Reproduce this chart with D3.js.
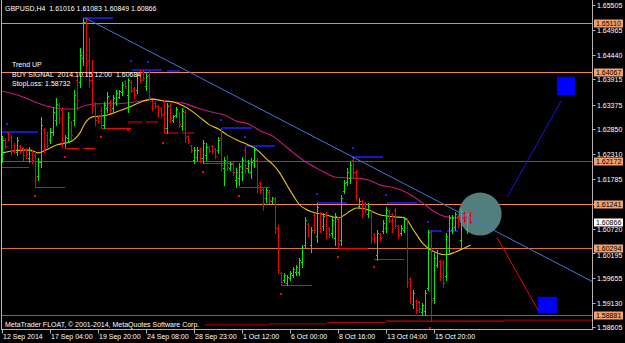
<!DOCTYPE html>
<html>
<head>
<meta charset="utf-8">
<script src="https://cdn.jsdelivr.net/npm/d3@7"></script>
<style>
  html, body { margin: 0; padding: 0; background: #000; }
  svg { display: block; }
  text { font-family: "Liberation Sans", Arial, sans-serif; font-size: 7px; fill: #fff; white-space: pre; }
</style>
</head>
<body>
<div id="chart"></div>
<script>
// GBPUSD H4 bars (bar 0 = 12 Sep 2014)
var opens = [
  1.6230,1.6262,1.6277,1.6268,1.6251,1.6236,1.6249,1.6245,1.6240,1.6223,
  1.6238,1.6230,1.6185,1.6215,1.6283,1.6272,1.6262,1.6279,1.6304,1.6336,
  1.6326,1.6255,1.6266,1.6300,1.6304,1.6390,1.6386,1.6437,1.6514,1.6433,
  1.6390,1.6336,1.6311,1.6326,1.6294,1.6330,1.6343,1.6330,1.6343,1.6354,
  1.6364,1.6388,1.6358,1.6386,1.6373,1.6369,1.6407,1.6407,1.6377,1.6401,
  1.6345,1.6341,1.6334,1.6330,1.6343,1.6287,1.6336,1.6304,1.6315,1.6319,
  1.6292,1.6321,1.6270,1.6251,1.6219,1.6225,1.6240,1.6223,1.6230,1.6247,
  1.6249,1.6242,1.6240,1.6266,1.6202,1.6225,1.6202,1.6210,1.6176,1.6180,
  1.6193,1.6240,1.6202,1.6193,1.6219,1.6219,1.6170,1.6157,1.6137,1.6150,
  1.6131,1.6135,1.6073,1.5977,1.5962,1.5956,1.5966,1.5973,1.5979,1.5979,
  1.6001,1.6037,1.6082,1.6037,1.6101,1.6056,1.6105,1.6078,1.6103,1.6073,
  1.6063,1.6052,1.6093,1.6048,1.6152,1.6172,1.6180,1.6219,1.6193,1.6120,
  1.6131,1.6125,1.6103,1.6110,1.6060,1.6016,1.6060,1.6067,1.6073,1.6110,
  1.6103,1.6112,1.6078,1.6063,1.6069,1.6090,1.5964,1.5911,1.5917,1.5915,
  1.5894,1.5896,1.5945,1.6063,1.5924,1.5994,1.6003,1.6001,1.5971,1.6031,
  1.6069,1.6075,1.6099,1.6048,1.6105,1.6069,1.61016
];
var highs = [
  1.6270,1.6266,1.6279,1.6272,1.6255,1.6268,1.6251,1.6247,1.6245,1.6247,
  1.6240,1.6236,1.6223,1.6311,1.6287,1.6279,1.6287,1.6332,1.6352,1.6341,
  1.6332,1.6272,1.6321,1.6302,1.6369,1.6401,1.6459,1.6523,1.6523,1.6480,
  1.6433,1.6343,1.6315,1.6332,1.6343,1.6364,1.6347,1.6358,1.6369,1.6369,
  1.6386,1.6390,1.6394,1.6390,1.6375,1.6407,1.6411,1.6411,1.6405,1.6411,
  1.6347,1.6345,1.6336,1.6332,1.6347,1.6341,1.6341,1.6315,1.6332,1.6321,
  1.6330,1.6326,1.6272,1.6251,1.6247,1.6247,1.6245,1.6262,1.6255,1.6249,
  1.6251,1.6245,1.6268,1.6287,1.6225,1.6230,1.6215,1.6215,1.6202,1.6212,
  1.6225,1.6247,1.6219,1.6223,1.6247,1.6223,1.6172,1.6161,1.6159,1.6155,
  1.6140,1.6140,1.6080,1.5979,1.5977,1.5973,1.5981,1.5990,1.5994,1.6009,
  1.6037,1.6097,1.6084,1.6075,1.6105,1.6127,1.6108,1.6105,1.6108,1.6075,
  1.6097,1.6105,1.6097,1.6144,1.6176,1.6202,1.6215,1.6223,1.6197,1.6137,
  1.6133,1.6129,1.6127,1.6112,1.6063,1.6069,1.6063,1.6090,1.6118,1.6112,
  1.6105,1.6116,1.6080,1.6080,1.6097,1.6095,1.5968,1.5941,1.5919,1.5917,
  1.5913,1.5941,1.6069,1.6069,1.6020,1.6026,1.6005,1.6005,1.6063,1.6101,
  1.6101,1.6108,1.6101,1.6116,1.6108,1.6105,1.61083
];
var lows = [
  1.6215,1.6245,1.6262,1.6230,1.6234,1.6230,1.6234,1.6219,1.6223,1.6215,
  1.6212,1.6161,1.6176,1.6204,1.6236,1.6245,1.6255,1.6272,1.6294,1.6298,
  1.6247,1.6247,1.6257,1.6262,1.6294,1.6326,1.6375,1.6422,1.6401,1.6375,
  1.6319,1.6294,1.6298,1.6287,1.6287,1.6321,1.6321,1.6321,1.6336,1.6352,
  1.6358,1.6373,1.6321,1.6364,1.6352,1.6362,1.6386,1.6390,1.6369,1.6347,
  1.6326,1.6330,1.6311,1.6311,1.6277,1.6277,1.6300,1.6300,1.6311,1.6289,
  1.6283,1.6257,1.6255,1.6236,1.6212,1.6219,1.6215,1.6212,1.6219,1.6236,
  1.6234,1.6223,1.6234,1.6197,1.6165,1.6197,1.6197,1.6187,1.6161,1.6165,
  1.6176,1.6191,1.6193,1.6180,1.6204,1.6150,1.6148,1.6112,1.6129,1.6127,
  1.6127,1.6063,1.5977,1.5951,1.5958,1.5951,1.5962,1.5968,1.5973,1.5973,
  1.5990,1.6031,1.6054,1.6022,1.6063,1.6043,1.6065,1.6069,1.6052,1.6054,
  1.6054,1.6037,1.6031,1.6037,1.6148,1.6165,1.6170,1.6182,1.6133,1.6116,
  1.6097,1.6108,1.6097,1.6041,1.6041,1.6005,1.6048,1.6063,1.6065,1.6086,
  1.6065,1.6073,1.6052,1.6058,1.6065,1.5947,1.5913,1.5902,1.5891,1.5894,
  1.5887,1.5887,1.5941,1.5875,1.5913,1.5990,1.5962,1.5947,1.5962,1.6022,
  1.6063,1.6069,1.6075,1.6031,1.6086,1.6063,1.60849
];
var closes = [
  1.6262,1.6249,1.6264,1.6240,1.6240,1.6262,1.6238,1.6230,1.6232,1.6240,
  1.6219,1.6176,1.6215,1.6294,1.6245,1.6251,1.6279,1.6321,1.6339,1.6309,
  1.6262,1.6268,1.6311,1.6272,1.6358,1.6347,1.6444,1.6514,1.6422,1.6390,
  1.6336,1.6304,1.6302,1.6294,1.6336,1.6356,1.6326,1.6352,1.6362,1.6366,
  1.6379,1.6377,1.6390,1.6369,1.6358,1.6401,1.6390,1.6394,1.6399,1.6354,
  1.6330,1.6334,1.6315,1.6317,1.6287,1.6334,1.6309,1.6313,1.6328,1.6296,
  1.6324,1.6268,1.6259,1.6240,1.6240,1.6240,1.6223,1.6255,1.6247,1.6238,
  1.6238,1.6227,1.6262,1.6208,1.6219,1.6204,1.6210,1.6193,1.6193,1.6206,
  1.6219,1.6202,1.6212,1.6215,1.6240,1.6165,1.6155,1.6127,1.6155,1.6133,
  1.6137,1.6073,1.5983,1.5958,1.5973,1.5968,1.5977,1.5986,1.5990,1.6005,
  1.6031,1.6090,1.6058,1.6069,1.6069,1.6118,1.6073,1.6099,1.6063,1.6058,
  1.6090,1.6099,1.6039,1.6137,1.6170,1.6193,1.6208,1.6193,1.6144,1.6131,
  1.6105,1.6112,1.6120,1.6052,1.6045,1.6063,1.6052,1.6084,1.6112,1.6090,
  1.6073,1.6080,1.6058,1.6073,1.6093,1.5958,1.5924,1.5934,1.5898,1.5900,
  1.5909,1.5934,1.6065,1.5919,1.6009,1.6020,1.5968,1.5956,1.6056,1.6095,
  1.6095,1.6103,1.6082,1.6110,1.6090,1.6101,1.60866
];

// moving averages at these bars
var fastMaBars = [0,3,6,9,12,15,18,21,23,25,26,27,28,30,33,35,39,43,47,50,
  54,57,61,63,66,69,72,75,79,82,85,88,90,92,95,97,99,101,103,108,
  112,114,116,118,121,126,131,134,137,140,144,148,151,156];
var fastMa = [1.6234,1.6238,1.6240,1.6240,1.6234,1.6242,1.6251,1.6255,1.6259,1.6270,
  1.6279,1.6292,1.6302,1.6311,1.6313,1.6315,1.6324,1.6334,1.6345,1.6349,
  1.6345,1.6343,1.6332,1.6324,1.6309,1.6294,1.6285,1.6272,1.6259,1.6251,
  1.6240,1.6221,1.6210,1.6195,1.6163,1.6142,1.6123,1.6114,1.6108,1.6101,
  1.6095,1.6101,1.6110,1.6116,1.6114,1.6101,1.6097,1.6095,1.6069,1.6041,
  1.6022,1.6016,1.6022,1.6037];
var slowMaBars = [0,5,10,15,20,24,28,32,38,44,48,50,54,60,65,70,74,78,82,86,
  90,93,97,101,106,111,117,122,126,131,135,140,144,148,152,156];
var slowMa = [1.6366,1.6358,1.6345,1.6334,1.6328,1.6328,1.6336,1.6339,1.6339,1.6343,
  1.6347,1.6349,1.6345,1.6341,1.6330,1.6321,1.6315,1.6302,1.6296,1.6281,
  1.6270,1.6255,1.6234,1.6215,1.6197,1.6182,1.6180,1.6176,1.6165,1.6159,
  1.6148,1.6127,1.6108,1.6097,1.6095,1.6095];

// horizontal levels and axes
var levelPrices = [1.65110, 1.64067, 1.62172, 1.61241, 1.60294, 1.58881];
var priceTicks = [1.65505,1.64965,1.64440,1.63915,1.63375,1.62850,1.62310,
  1.61785,1.61250,1.60720,1.60195,1.59655,1.59130,1.58605];
var lastPrice = 1.60866;
var dateBars = [0,16,32,48,64,80,96,112,128,144];
var dateLabels = ["12 Sep 2014","17 Sep 04:00","19 Sep 20:00","24 Sep 08:00","28 Sep 23:00",
  "1 Oct 12:00","6 Oct 00:00","8 Oct 16:00","13 Oct 04:00","15 Oct 20:00"];

// indicator marks (bar index, price)
var blueDotBars = [27,1.5,42.8,48.5,72.8,80.8,116.8,104.8,127.8,141.8];
var blueDotPrices = [1.6542,1.6296,1.6431,1.6429,1.6304,1.6268,1.6245,1.6146,1.6144,1.6086];
var blueSegStart = [26.8,-0.2,43.2,54.8,73.2,80.8,116.5,104.8,128.2,141.8,148.2];
var blueSegEnd = [36.8,11.8,53.2,59.2,83.2,90.8,126.8,114.8,138.2,146.5,151.8];
var blueSegPrice = [1.6523,1.6279,1.6412,1.6410,1.6287,1.6249,1.6225,1.6127,1.6127,1.6067,1.6067];
var redDotBars = [10.8,20.8,32.8,41.8,53.5,66.8,78.8,92.8,111.8,123.8,142.5];
var redDotPrices = [1.6142,1.6225,1.6268,1.6283,1.6255,1.6193,1.6142,1.5932,1.6011,1.5990,1.5859];
var redSegStart = [-0.2,10.8,20.8,26.8,33.2,66.8,78.8,92.8,111.8,123.8];
var redSegEnd = [8.8,20.8,25.5,30.8,42.8,76.8,89.2,103.2,121.8,133.8];
var redSegPrice = [1.6203,1.6161,1.6245,1.6245,1.6287,1.6212,1.6161,1.5951,1.6031,1.6007];
var darkSegStart = [41.8,47.8,53.8,59.8];
var darkSegEnd = [46.5,51.8,58.5,63.8];
var darkSegPrice = [1.6300,1.6300,1.6277,1.6277];
var stopStart = [67.5,88.5,108.2,127.8,167.2];
var stopEnd = [88.5,108.2,127.8,167.2,196.8];
var stopPrice = [1.5866,1.5868,1.5871,1.5874,1.5876];

// trend line and projection objects
var trendBars = [27.5, 196.8];
var trendPrices = [1.6523, 1.5958];
var upArrowBars = [168.2, 186.2];
var upArrowPrices = [1.6139, 1.6345];
var downArrowBars = [164.8, 178.8];
var downArrowPrices = [1.6054, 1.5894];
var boxBarStart = [184.8, 178.5];
var boxBarEnd = [190.8, 184.8];
var boxTop = [1.6397, 1.5926];
var boxBottom = [1.6358, 1.5891];
var circleBar = 159.2;
var circlePrice = 1.6103;

var titleText = "GBPUSD,H4  1.61016 1.61083 1.60849 1.60866";
var infoLines = ["Trend UP", "BUY SIGNAL  2014.10.15 12:00  1.60684", "StopLoss: 1.58732"];
var copyText = "MetaTrader FLOAT, \u00a9 2001-2014, MetaQuotes Software Corp.";

(function () {
    var W = 625, H = 343;
    var PLOT_L = 1.5, PLOT_R = 592.5, PLOT_B = 329.5;
    var UP = '#00f000', DOWN = '#f00000';
    var LEVEL_COLORS = ['#f4875a', '#f4875a', '#8c4628', '#f4875a', '#dc6e3e', '#a85430'];

    var svg = d3.select('#chart').append('svg')
        .attr('width', W).attr('height', H);

    svg.append('rect').attr('width', W).attr('height', H).attr('fill', '#000');

    var x = d3.scaleLinear().domain([0, 156]).range([2.5, 470.5]);
    var y = d3.scaleLinear().domain([1.58605, 1.65505]).range([327.4, 5]);

    var plot = svg.append('g');

    // price levels
    plot.selectAll('line.level')
        .data(levelPrices)
        .join('line')
        .attr('x1', PLOT_L).attr('x2', PLOT_R)
        .attr('y1', function (d) { return Math.round(y(d)) + 0.5; })
        .attr('y2', function (d) { return Math.round(y(d)) + 0.5; })
        .attr('stroke', function (d, i) { return LEVEL_COLORS[i]; })
        .attr('stroke-width', 1);

    // highlight circle
    plot.append('circle')
        .attr('cx', x(circleBar)).attr('cy', y(circlePrice)).attr('r', 21.5)
        .attr('fill', '#527f7e');

    // stop-loss steps
    stopPrice.forEach(function (p, i) {
        plot.append('line')
            .attr('x1', x(stopStart[i])).attr('x2', x(stopEnd[i]))
            .attr('y1', y(p)).attr('y2', y(p))
            .attr('stroke', i === 3 ? '#ff0000' : '#b00000').attr('stroke-width', 1);
    });

    // fractal style marks
    var marks = plot.append('g').attr('shape-rendering', 'crispEdges');
    blueSegPrice.forEach(function (p, i) {
        marks.append('line')
            .attr('x1', x(blueSegStart[i])).attr('x2', x(blueSegEnd[i]))
            .attr('y1', Math.round(y(p))).attr('y2', Math.round(y(p)))
            .attr('stroke', '#1616c8').attr('stroke-width', 2);
    });
    redSegPrice.forEach(function (p, i) {
        marks.append('line')
            .attr('x1', x(redSegStart[i])).attr('x2', x(redSegEnd[i]))
            .attr('y1', Math.round(y(p)) + 0.5).attr('y2', Math.round(y(p)) + 0.5)
            .attr('stroke', '#ff0000').attr('stroke-width', 1);
    });
    darkSegPrice.forEach(function (p, i) {
        marks.append('line')
            .attr('x1', x(darkSegStart[i])).attr('x2', x(darkSegEnd[i]))
            .attr('y1', Math.round(y(p))).attr('y2', Math.round(y(p)))
            .attr('stroke', '#7a0000').attr('stroke-width', 2);
    });
    blueDotPrices.forEach(function (p, i) {
        marks.append('rect')
            .attr('x', Math.round(x(blueDotBars[i])) - 1).attr('y', Math.round(y(p)) - 1)
            .attr('width', 2).attr('height', 2).attr('fill', '#2020ff');
    });
    redDotPrices.forEach(function (p, i) {
        marks.append('rect')
            .attr('x', Math.round(x(redDotBars[i])) - 1).attr('y', Math.round(y(p)) - 1)
            .attr('width', 2).attr('height', 2).attr('fill', '#ff0000');
    });

    // moving averages
    var maLine = d3.line()
        .x(function (d) { return x(d[0]); })
        .y(function (d) { return y(d[1]); })
        .curve(d3.curveMonotoneX);
    plot.append('path')
        .attr('d', maLine(d3.zip(slowMaBars, slowMa)))
        .attr('fill', 'none').attr('stroke', '#c4187e').attr('stroke-width', 1.1);
    plot.append('path')
        .attr('d', maLine(d3.zip(fastMaBars, fastMa)))
        .attr('fill', 'none').attr('stroke', '#e6c414').attr('stroke-width', 1.1);

    // OHLC bars
    var bars = plot.append('g').attr('shape-rendering', 'crispEdges');
    opens.forEach(function (o, i) {
        var c = closes[i];
        var col = c >= o ? UP : DOWN;
        var cx = Math.floor(x(i));
        var yh = Math.round(y(highs[i])), yl = Math.round(y(lows[i]));
        bars.append('rect').attr('x', cx).attr('y', yh)
            .attr('width', 1).attr('height', Math.max(1, yl - yh + 1)).attr('fill', col);
        bars.append('rect').attr('x', cx - 1).attr('y', Math.round(y(o)))
            .attr('width', 1).attr('height', 1).attr('fill', col);
        bars.append('rect').attr('x', cx + 1).attr('y', Math.round(y(c)))
            .attr('width', 1).attr('height', 1).attr('fill', col);
    });

    // trend line
    plot.append('line')
        .attr('x1', x(trendBars[0])).attr('y1', y(trendPrices[0]))
        .attr('x2', x(trendBars[1])).attr('y2', y(trendPrices[1]))
        .attr('stroke', '#4276da').attr('stroke-width', 1);

    // projections
    plot.append('line')
        .attr('x1', x(upArrowBars[0])).attr('y1', y(upArrowPrices[0]))
        .attr('x2', x(upArrowBars[1])).attr('y2', y(upArrowPrices[1]))
        .attr('stroke', '#1414e6').attr('stroke-width', 1);
    plot.append('line')
        .attr('x1', x(downArrowBars[0])).attr('y1', y(downArrowPrices[0]))
        .attr('x2', x(downArrowBars[1])).attr('y2', y(downArrowPrices[1]))
        .attr('stroke', '#f00000').attr('stroke-width', 1);
    boxTop.forEach(function (t, i) {
        plot.append('rect')
            .attr('x', x(boxBarStart[i])).attr('y', y(t))
            .attr('width', x(boxBarEnd[i]) - x(boxBarStart[i]))
            .attr('height', y(boxBottom[i]) - y(t))
            .attr('fill', '#0000ff');
    });

    // frame
    var frame = svg.append('g').attr('stroke', '#b4b4b4').attr('shape-rendering', 'crispEdges');
    frame.append('line').attr('x1', PLOT_L).attr('x2', PLOT_L).attr('y1', 0).attr('y2', PLOT_B);
    frame.append('line').attr('x1', PLOT_R).attr('x2', PLOT_R).attr('y1', 0).attr('y2', PLOT_B);
    frame.append('line').attr('x1', PLOT_L).attr('x2', PLOT_R).attr('y1', PLOT_B).attr('y2', PLOT_B);

    // price axis: tick labels give way to the level/last-price boxes
    var boxCenters = levelPrices.concat([lastPrice]).map(function (p) { return Math.round(y(p)) + 0.5; });
    var pAxis = svg.append('g');
    priceTicks.forEach(function (p) {
        var py = Math.round(y(p)) + 0.5;
        var base = py + 2.5;
        var hidden = false;
        boxCenters.forEach(function (by) {
            var dy = py - by;
            if (Math.abs(dy) < 4) { hidden = true; }
            else if (dy > 0 && base - 5.5 < by + 4) { base = by + 9.5; }
            else if (dy < 0 && base > by - 4) { base = by - 4.5; }
        });
        pAxis.append('line').attr('x1', PLOT_R).attr('x2', PLOT_R + 3)
            .attr('y1', py).attr('y2', py).attr('stroke', '#b4b4b4');
        if (!hidden) {
            pAxis.append('text').attr('x', 597).attr('y', base).text(p.toFixed(5));
        }
    });
    levelPrices.forEach(function (p) {
        var py = Math.round(y(p)) + 0.5;
        pAxis.append('rect').attr('x', 594).attr('y', py - 4)
            .attr('width', 29).attr('height', 8).attr('fill', '#f4a06c');
        pAxis.append('text').attr('x', 596).attr('y', py + 2.5)
            .style('fill', '#000').text(p.toFixed(5));
    });
    var lp = Math.round(y(lastPrice)) + 0.5;
    pAxis.append('rect').attr('x', 594).attr('y', lp - 4)
        .attr('width', 29).attr('height', 8).attr('fill', '#fff');
    pAxis.append('text').attr('x', 596).attr('y', lp + 2.5)
        .style('fill', '#000').text(lastPrice.toFixed(5));

    // time axis
    var tAxis = svg.append('g');
    dateBars.forEach(function (b, i) {
        var tx = Math.floor(x(b)) + 0.5;
        tAxis.append('line').attr('x1', tx).attr('x2', tx)
            .attr('y1', PLOT_B).attr('y2', PLOT_B + 4).attr('stroke', '#b4b4b4');
        tAxis.append('text').attr('x', tx + 0.5).attr('y', 339).text(dateLabels[i]);
    });

    // texts
    svg.append('text').attr('x', 5).attr('y', 10.5).text(titleText);
    svg.selectAll('text.info')
        .data(infoLines)
        .join('text')
        .attr('class', 'info')
        .attr('x', 12)
        .attr('y', function (d, i) { return 67 + i * 9.6; })
        .text(function (d) { return d; });
    svg.append('text').attr('x', 5).attr('y', 326.5).text(copyText);
}());
</script>
</body>
</html>
